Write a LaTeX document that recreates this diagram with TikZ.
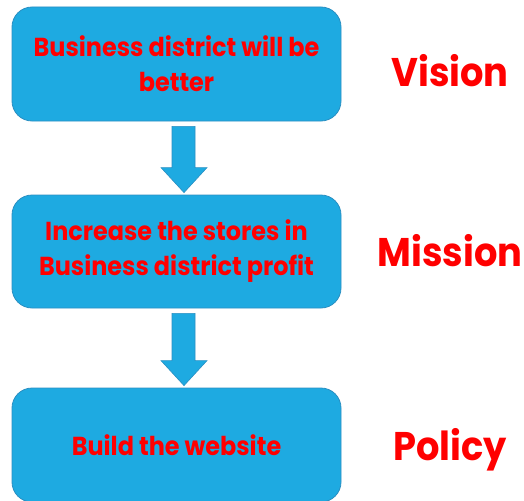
\documentclass[tikz,border=0pt]{standalone}
\usepackage{fontspec}
\setmainfont{Poppins}[BoldFont=* Bold, FakeStretch=0.92]
\usetikzlibrary{calc}
\definecolor{boxblue}{HTML}{1EAAE1}
\definecolor{boxedge}{HTML}{2A8FC2}
\definecolor{txtred}{HTML}{FF0000}
\tikzset{
  stage/.style={draw=boxedge, line width=0.8pt, fill=boxblue, rounded corners=20pt,
    minimum width=329pt, align=center, text=txtred,
    font=\bfseries\fontsize{26}{35}\selectfont},
  level/.style={text=txtred, font=\bfseries\fontsize{40}{42}\selectfont, anchor=base},
  flow/.style={draw=boxedge, line width=0.6pt, fill=boxblue},
}
\begin{document}
\begin{tikzpicture}[x=1pt,y=-1pt]
\useasboundingbox (0,0) rectangle (524,500);
\begin{scope}
\clip (0,0) rectangle (524,500);
\node[stage, minimum height=114pt] (vision) at (176.5,64)
  {Business district will be\\better};
\node[stage, minimum height=113pt] (mission) at (176.5,251.5)
  {Increase the stores in\\Business district profit};
\node[stage, minimum height=114pt] (policy) at (176.5,445)
  {Build the website};
\end{scope}
% block arrows between the stages
\foreach \a/\b in {vision/mission, mission/policy}{
  \draw[flow] ($(\a.south)+(-4.5,5)$) -- ($(\a.south)+(18.5,5)$)
    |- ($(\b.north)+(30.5,-27)$) -- ($(\b.north)+(7.5,-2)$)
    -- ($(\b.north)+(-15.5,-27)$) -| cycle;
}
\node[level] (lv) at (450,87) {Vision};
\node[level] (lm) at (450,266) {Mission};
\node[level] (lp) at (450,460) {Policy};
\end{tikzpicture}
\end{document}
